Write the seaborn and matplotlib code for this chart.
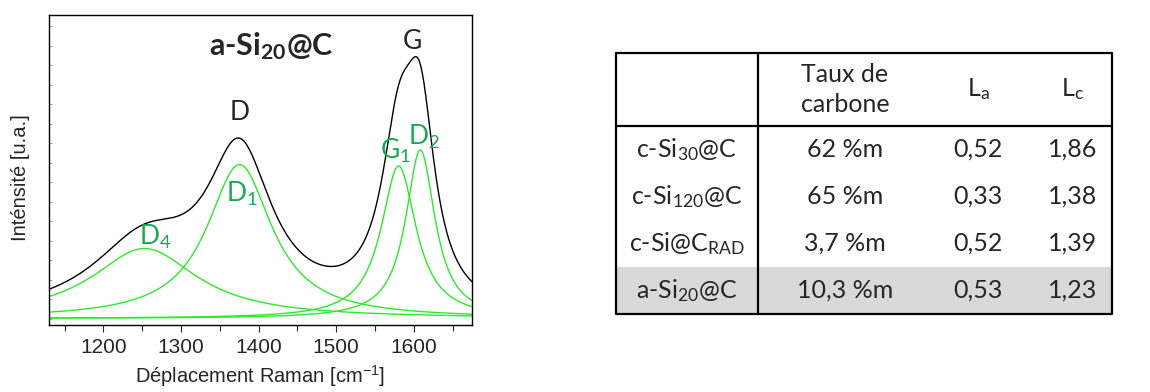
import numpy as np
import pandas as pd
import matplotlib
matplotlib.use('Agg')
import matplotlib.pyplot as plt
import seaborn as sns

sns.set_style('white')
plt.rcParams['font.family'] = ['Liberation Sans', 'DejaVu Sans']

# fitted Lorentzian components (centre, amplitude, half width)
bands = ['D4', 'D1', 'G1', 'D2']
centres = [1253, 1375.5, 1580.5, 1608.5]
amplitudes = [70, 154, 152.5, 168.5]
half_widths = [83, 51, 27.5, 23]

# peak labels
band_labels = [r'D$\mathregular{_4}$', r'D$\mathregular{_1}$', r'G$\mathregular{_1}$', r'D$\mathregular{_2}$']
band_label_x = [1245.5, 1358, 1557, 1592.7]
band_label_y = [73.5, 117, 160, 173.5]

# table
samples = [r'c-Si$\mathregular{_{30}}$@C', r'c-Si$\mathregular{_{120}}$@C',
           r'c-Si@C$\mathregular{_{RAD}}$', r'a-Si$\mathregular{_{20}}$@C']
taux = ['62 %m', '65 %m', '3,7 %m', '10,3 %m']
La = ['0,52', '0,33', '0,52', '0,53']
Lc = ['1,86', '1,38', '1,39', '1,23']
headers = ['', 'Taux de\ncarbone', r'L$\mathregular{_a}$', r'L$\mathregular{_c}$']
xticks = [1200, 1300, 1400, 1500, 1600]

x = np.linspace(1130, 1675, 1200)
rows = []
for b, c, a, w in zip(bands, centres, amplitudes, half_widths):
    y = a / (1 + ((x - c) / w) ** 2)
    rows.append(pd.DataFrame({'x': x, 'y': y, 'band': b}))
df = pd.concat(rows)
total = df.groupby('x')['y'].sum().reset_index()

fig = plt.figure(figsize=(11.5, 3.92), dpi=100)
ax = fig.add_axes([0.0426, 0.1709, 0.3678, 0.7908])

green = '#2ee82e'
sns.lineplot(data=df, x='x', y='y', units='band', estimator=None, color=green, lw=1.0, ax=ax, legend=False)
sns.lineplot(data=total, x='x', y='y', color='black', lw=1.0, ax=ax)

arial = ['Liberation Sans', 'DejaVu Sans']
ax.set_xlim(1130, 1675)
ax.set_ylim(-6.5, 303.5)
ax.set_xticks(xticks, labels=[str(t) for t in xticks], fontsize=15, family='Liberation Sans')
ax.set_xticks(np.arange(1150, 1675, 100), minor=True)
ax.set_yticks(np.arange(0, 300, 19.5))
ax.set_yticklabels([])
ax.tick_params(axis='x', which='major', direction='out', length=5, width=0.8, bottom=True, pad=4)
ax.tick_params(axis='x', which='minor', direction='out', length=4, width=0.8, bottom=True)
ax.tick_params(axis='y', direction='in', length=2, width=0.5, left=True, color='#777777')
for s in ax.spines.values():
    s.set_color('black')
    s.set_linewidth(1.0)
ax.set_xlabel(r'Déplacement Raman [cm$\mathregular{^{-1}}$]', family=arial, fontsize=14.5, labelpad=5)
ax.set_ylabel('Inténsité [u.a.]', family=arial, fontsize=14.5)
ax.yaxis.set_label_coords(-0.045, 0.474)

calibri = ['Lato', 'DejaVu Sans']
ax.text(1417, 263.5, r'a-Si$\mathregular{_{20}}$@C', family=calibri, fontweight='bold', fontsize=22,
        ha='center', va='baseline')
ax.text(1598.7, 270, 'G', family=calibri, fontsize=19, ha='center', va='baseline')
ax.text(1375.5, 198.5, 'D', family=calibri, fontsize=19, ha='center', va='baseline')
for lab, lx, ly in zip(band_labels, band_label_x, band_label_y):
    ax.text(lx, ly, lab, family=calibri, fontsize=19, color='#17a94f', ha='left', va='baseline')

# table drawn in pixel coordinates of the figure
tb = fig.add_axes([0, 0, 1, 1])
tb.set_xlim(0, 1150)
tb.set_ylim(392, 0)
tb.axis('off')

left, right, top, bottom = 616, 1112, 53, 314
head_bottom = 126
col_split = 758
row_h = (bottom - head_bottom) / 4
col_centres = [687, 845, 978, 1073]

tb.fill_between([left, right], head_bottom + 3 * row_h, bottom, color='#d9d9d9', lw=0)
lw = 1.6
tb.plot([left, right, right, left, left], [top, top, bottom, bottom, top], color='black', lw=lw)
tb.plot([left, right], [head_bottom, head_bottom], color='black', lw=lw)
tb.plot([col_split, col_split], [top, bottom], color='black', lw=lw)

fs = 18
for cx, h in zip(col_centres, headers):
    tb.text(cx, (top + head_bottom) / 2, h, family=calibri, fontsize=fs, ha='center', va='center',
            linespacing=1.4)
for i in range(4):
    cy = head_bottom + (i + 0.5) * row_h
    for cx, val in zip(col_centres, [samples[i], taux[i], La[i], Lc[i]]):
        tb.text(cx, cy, val, family=calibri, fontsize=fs, ha='center', va='center')

fig.savefig('out.png', dpi=100)
